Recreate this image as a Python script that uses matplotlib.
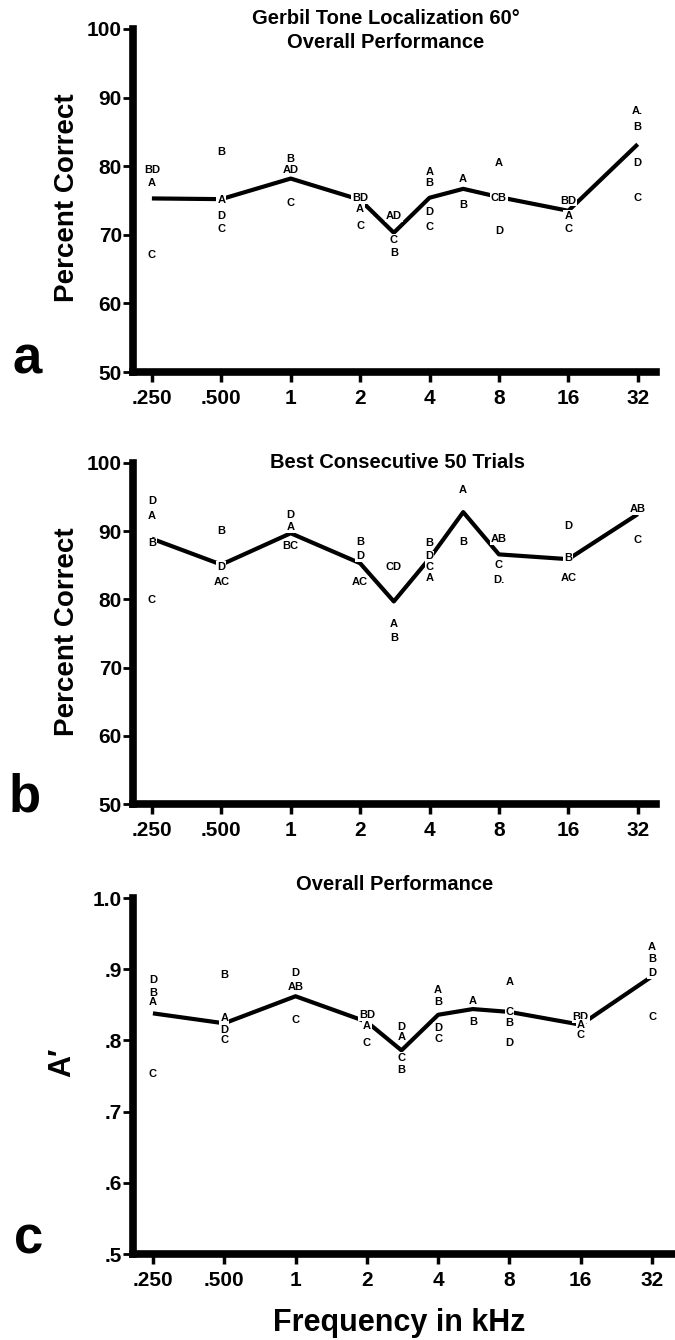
import matplotlib
matplotlib.use("Agg")
import matplotlib.pyplot as plt

plt.rcParams['font.family'] = ['Liberation Sans', 'DejaVu Sans']
plt.rcParams['font.weight'] = 'bold'

# frequencies tested (kHz)
freqs = [0.25, 0.5, 1, 2, 2.8, 4, 5.6, 8, 16, 32]
tick_freqs = [0.25, 0.5, 1, 2, 4, 8, 16, 32]
tick_labels = ['.250', '.500', '1', '2', '4', '8', '16', '32']

# group means
pct_overall = [75.3, 75.2, 78.2, 75.1, 70.3, 75.4, 76.7, 75.5, 73.5, 83.2]
pct_best50 = [88.9, 85.1, 89.7, 85.3, 79.7, 86.0, 92.8, 86.6, 85.9, 92.5]
aprime_overall = [0.838, 0.824, 0.862, 0.826, 0.786, 0.836, 0.844, 0.840, 0.822, 0.890]

# individual animals (letters), panel a
a_lab_f = [0.25, 0.25, 0.25, 0.5, 0.5, 0.5, 0.5, 1, 1, 1, 2, 2, 2, 2.8, 2.8, 2.8,
           4, 4, 4, 4, 5.6, 5.6, 8, 8, 8, 16, 16, 16, 32, 32, 32, 32]
a_lab_t = ['BD', 'A', 'C', 'B', 'A', 'D', 'C', 'B', 'AD', 'C', 'BD', 'A', 'C', 'AD', 'C', 'B',
           'A', 'B', 'D', 'C', 'A', 'B', 'A', 'CB', 'D', 'BD', 'A', 'C', 'A.', 'B', 'D', 'C']
a_lab_v = [79.5, 77.5, 67.1, 82.0, 75.1, 72.7, 70.9, 81.0, 79.5, 74.6, 75.3, 73.8, 71.3,
           72.7, 69.3, 67.4, 79.1, 77.5, 73.3, 71.2, 78.2, 74.4, 80.5, 75.4, 70.6,
           75.0, 72.8, 70.8, 88.0, 85.7, 80.5, 75.4]

# panel b
b_lab_f = [0.25, 0.25, 0.25, 0.25, 0.5, 0.5, 0.5, 1, 1, 1, 2, 2, 2, 2.8, 2.8, 2.8,
           4, 4, 4, 4, 5.6, 5.6, 8, 8, 8, 16, 16, 16, 32, 32]
b_lab_t = ['D', 'A', 'B', 'C', 'B', 'D', 'AC', 'D', 'A', 'BC', 'B', 'D', 'AC', 'CD', 'A', 'B',
           'B', 'D', 'C', 'A', 'A', 'B', 'AB', 'C', 'D.', 'D', 'B', 'AC', 'AB', 'C']
b_lab_v = [94.4, 92.2, 88.2, 79.9, 90.1, 84.7, 82.5, 92.4, 90.6, 87.9, 88.4, 86.3, 82.5,
           84.7, 76.4, 74.3, 88.2, 86.3, 84.7, 83.1, 96.1, 88.4, 88.9, 85.0, 82.8,
           90.7, 86.0, 83.1, 93.3, 88.7]

# panel c
c_lab_f = [0.25, 0.25, 0.25, 0.25, 0.5, 0.5, 0.5, 0.5, 1, 1, 1, 2, 2, 2,
           2.8, 2.8, 2.8, 2.8, 4, 4, 4, 4, 5.6, 5.6, 8, 8, 8, 8, 16, 16, 16, 32, 32, 32, 32]
c_lab_t = ['D', 'B', 'A', 'C', 'B', 'A', 'D', 'C', 'D', 'AB', 'C', 'BD', 'A', 'C',
           'D', 'A', 'C', 'B', 'A', 'B', 'D', 'C', 'A', 'B', 'A', 'C', 'B', 'D',
           'BD', 'A', 'C', 'A', 'B', 'D', 'C']
c_lab_v = [0.885, 0.867, 0.854, 0.753, 0.892, 0.831, 0.815, 0.801, 0.894, 0.875, 0.829,
           0.836, 0.820, 0.796, 0.819, 0.805, 0.775, 0.758, 0.871, 0.854, 0.817, 0.802,
           0.855, 0.826, 0.882, 0.840, 0.824, 0.796, 0.833, 0.822, 0.808,
           0.931, 0.914, 0.894, 0.833]

W, H = 675, 1340
fig = plt.figure(figsize=(W / 100, H / 100), dpi=100)


def fx(x):
    return x / W


def fy(y):
    return 1 - y / H


def panel(rect, means, lf, lt, lv, ylim, yticks, ylabels, xlim):
    ax = fig.add_axes(rect)
    ax.plot(freqs, means, color='black', lw=3, solid_capstyle='butt', zorder=2)
    for f, t, v in zip(lf, lt, lv):
        ax.text(f, v, t, ha='center', va='center', fontsize=8, fontweight='bold',
                zorder=3, bbox=dict(boxstyle='square,pad=0.08', fc='white', ec='none'))
    ax.set_xscale('log', base=2)
    ax.set_xlim(*xlim)
    ax.set_ylim(*ylim)
    ax.set_xticks(tick_freqs)
    ax.set_xticklabels(tick_labels)
    ax.minorticks_off()
    ax.set_yticks(yticks)
    ax.set_yticklabels(ylabels)
    for s in ['top', 'right']:
        ax.spines[s].set_visible(False)
    for s in ['left', 'bottom']:
        ax.spines[s].set_linewidth(5.5)
        ax.spines[s].set_capstyle('projecting')
    ax.tick_params(axis='x', direction='out', length=7, width=2.5, pad=5, labelsize=15)
    ax.tick_params(axis='y', direction='out', length=7, width=2, pad=1, labelsize=15)
    for lab in ax.get_xticklabels() + ax.get_yticklabels():
        lab.set_fontweight('bold')
    ax.patch.set_alpha(0)
    return ax


pct_ticks = [50, 60, 70, 80, 90, 100]
pct_labels = [str(t) for t in pct_ticks]
ap_ticks = [0.5, 0.6, 0.7, 0.8, 0.9, 1.0]
ap_labels = ['.5', '.6', '.7', '.8', '.9', '1.0']

ax_a = panel([fx(133), fy(372), fx(656) - fx(133), fy(29) - fy(372)],
             pct_overall, a_lab_f, a_lab_t, a_lab_v, (50, 100), pct_ticks, pct_labels,
             (0.207, 38.4))
ax_b = panel([fx(133), fy(804), fx(656) - fx(133), fy(463) - fy(804)],
             pct_best50, b_lab_f, b_lab_t, b_lab_v, (50, 100), pct_ticks, pct_labels,
             (0.207, 38.4))
ax_c = panel([fx(133), fy(1254), fx(673) - fx(133), fy(898) - fy(1254)],
             aprime_overall, c_lab_f, c_lab_t, c_lab_v, (0.5, 1.0), ap_ticks, ap_labels,
             (0.206, 39.2))

# titles
fig.text(fx(386), fy(18), 'Gerbil Tone Localization 60\u00b0', ha='center', va='center',
         fontsize=14.5, fontweight='bold')
fig.text(fx(386), fy(42), 'Overall Performance', ha='center', va='center',
         fontsize=14.5, fontweight='bold')
fig.text(fx(397), fy(463), 'Best Consecutive 50 Trials', ha='center', va='center',
         fontsize=14.5, fontweight='bold')
fig.text(fx(395), fy(885), 'Overall Performance', ha='center', va='center',
         fontsize=14.5, fontweight='bold')

# y labels
fig.text(fx(67), fy(198), 'Percent Correct', rotation=90, ha='center', va='center',
         fontsize=20, fontweight='bold')
fig.text(fx(67), fy(632), 'Percent Correct', rotation=90, ha='center', va='center',
         fontsize=20, fontweight='bold')
fig.text(fx(62), fy(1062), "A\u2032", rotation=90, ha='center', va='center',
         fontsize=22, fontweight='bold')

# x label
fig.text(fx(399), fy(1323), 'Frequency in kHz', ha='center', va='center',
         fontsize=22, fontweight='bold')

# panel letters
fig.text(fx(27), fy(373), 'a', ha='center', va='baseline', fontsize=38, fontweight='bold')
fig.text(fx(25), fy(812), 'b', ha='center', va='baseline', fontsize=38, fontweight='bold')
fig.text(fx(29), fy(1253), 'c', ha='center', va='baseline', fontsize=38, fontweight='bold')

fig.savefig('out.png', dpi=100, facecolor='white')
